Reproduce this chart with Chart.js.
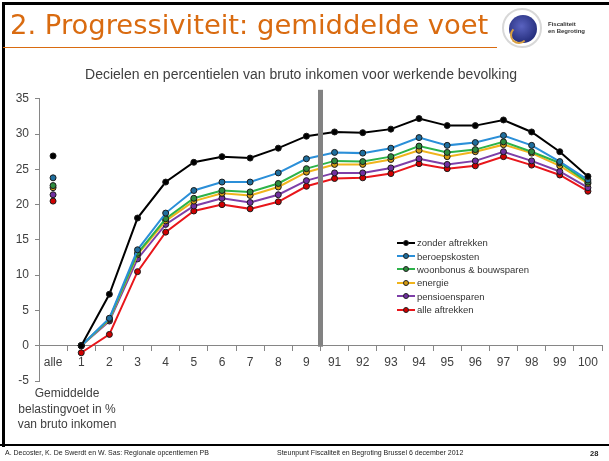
<!DOCTYPE html>
<html>
<head>
<meta charset="utf-8">
<script src="https://cdn.jsdelivr.net/npm/chart.js@4.4.1/dist/chart.umd.min.js"></script>
<style>
  html, body { margin: 0; padding: 0; background: #fff; }
  #slide { position: relative; width: 609px; height: 461px; overflow: hidden; font-family: "Liberation Sans", Arial, sans-serif; }
  #c { position: absolute; left: 0; top: 0; }
  .abs { position: absolute; }
  #topbar { left: 3px; top: 2px; width: 606px; height: 3px; background: #000; }
  #leftbar { left: 2px; top: 2px; width: 3px; height: 445px; background: #000; }
  #botbar { left: 0; top: 444px; width: 609px; height: 2px; background: #000; }
  #title { left: 10px; top: 9px; font-family: "DejaVu Sans", sans-serif; font-size: 27.4px; color: #d96b10; white-space: nowrap; }
  #underline { left: 3px; top: 47px; width: 494px; height: 1px; background: #d96b10; }
  #logo { left: 500px; top: 6px; width: 95px; height: 44px; }
  #logo .ring { left: 2px; top: 2px; width: 40px; height: 40px; border-radius: 50%; border: 2px solid #d8d8d8; box-sizing: border-box; }
  #logo .disc { left: 9px; top: 9px; width: 28px; height: 28px; border-radius: 50%; background: radial-gradient(circle at 45% 40%, #5a63c0, #27307f 70%); }
  #logo .arc { left: 10px; top: 20px; width: 18px; height: 18px; border-radius: 50%; border: 2px solid #d9a040; border-color: transparent transparent #d9a040 #d9a040; box-sizing: border-box; }
  #logo .txt { left: 48px; top: 15px; font-size: 6px; line-height: 7px; color: #333; font-weight: bold; }
  #ytitle { left: 2px; top: 386px; width: 130px; text-align: center; font-size: 12px; line-height: 15.5px; color: #404040; }
  #legend { left: 397px; top: 236px; font-size: 9.5px; color: #333; }
  #legend .row { height: 13.4px; display: flex; align-items: center; white-space: nowrap; }
  #legend .sample { position: relative; width: 18px; height: 2px; margin-right: 2px; }
  #legend .dot { position: absolute; left: 6px; top: -2px; width: 6px; height: 6px; border-radius: 50%; box-sizing: border-box; border: 1px solid #222; }
  .foot { top: 449px; font-size: 7px; color: #222; white-space: nowrap; }
</style>
</head>
<body>
<div id="slide">
  <canvas id="c" width="609" height="461"></canvas>
  <div class="abs" id="topbar"></div>
  <div class="abs" id="leftbar"></div>
  <div class="abs" id="botbar"></div>
  <div class="abs" id="title">2. Progressiviteit: gemiddelde voet</div>
  <div class="abs" id="underline"></div>
  <div class="abs" id="logo">
    <div class="abs ring"></div>
    <div class="abs disc"></div>
    <div class="abs arc"></div>
    <div class="abs txt">Fiscaliteit<br>en Begroting</div>
  </div>
  <div class="abs" id="ytitle">Gemiddelde<br>belastingvoet in %<br>van bruto inkomen</div>
  <div class="abs" id="legend"></div>
  <div class="abs foot" style="left:5px">A. Decoster, K. De Swerdt en W. Sas: Regionale opcentiemen PB</div>
  <div class="abs foot" style="left:277px">Steunpunt Fiscaliteit en Begroting Brussel 6 december 2012</div>
  <div class="abs foot" style="left:590px;font-weight:bold;font-size:7.5px">28</div>
</div>
<script>
// categorieen: "alle" + decielen 1-9 + percentielen 91-100
const categorieen = ["alle", "1", "2", "3", "4", "5", "6", "7", "8", "9",
  "91", "92", "93", "94", "95", "96", "97", "98", "99", "100"];

const zonderAftrekken = [26.9, 0, 7.3, 18.1, 23.2, 26.0, 26.8, 26.6, 28.0, 29.7,
  30.3, 30.2, 30.7, 32.2, 31.2, 31.2, 32.0, 30.3, 27.5, 24.0];
const beroepskosten = [23.8, 0, 3.9, 13.6, 18.8, 22.0, 23.2, 23.2, 24.5, 26.5,
  27.4, 27.3, 28.0, 29.5, 28.4, 28.8, 29.8, 28.4, 26.1, 23.5];
const woonbonus = [22.7, 0, 3.8, 13.1, 18.0, 20.9, 22.0, 21.8, 23.0, 25.1,
  26.2, 26.1, 26.8, 28.3, 27.4, 27.8, 28.9, 27.5, 25.9, 23.2];
const energie = [22.4, 0, 3.7, 12.9, 17.7, 20.5, 21.6, 21.3, 22.5, 24.6,
  25.7, 25.7, 26.4, 27.7, 26.8, 27.5, 28.5, 27.3, 25.5, 23.0];
const pensioensparen = [21.4, 0, 3.5, 12.3, 17.2, 19.8, 20.9, 20.3, 21.4, 23.4,
  24.5, 24.5, 25.2, 26.5, 25.7, 26.2, 27.5, 26.2, 24.7, 22.4];
const alleAftrekken = [20.5, -1.0, 1.6, 10.5, 16.1, 19.1, 20.0, 19.4, 20.4, 22.6,
  23.7, 23.8, 24.4, 25.8, 25.1, 25.5, 26.8, 25.6, 24.2, 21.9];

const reeksen = [
  { naam: "zonder aftrekken", data: zonderAftrekken, lijn: "#000000", punt: "#000000" },
  { naam: "beroepskosten", data: beroepskosten, lijn: "#2b8fd8", punt: "#1f6e9e" },
  { naam: "woonbonus & bouwsparen", data: woonbonus, lijn: "#2db34a", punt: "#2e8b3e" },
  { naam: "energie", data: energie, lijn: "#f0b41c", punt: "#d39a12" },
  { naam: "pensioensparen", data: pensioensparen, lijn: "#7e3fa8", punt: "#7030a0" },
  { naam: "alle aftrekken", data: alleAftrekken, lijn: "#e8161b", punt: "#d00000" }
];

// grijze scheidingslijn tussen decielen en percentielen
const scheiding = {
  id: "scheiding",
  afterDatasetsDraw(chart) {
    const x = chart.scales.x, y = chart.scales.y, ctx = chart.ctx;
    const px = (x.getPixelForValue(9) + x.getPixelForValue(10)) / 2;
    ctx.save();
    ctx.fillStyle = "#828282";
    ctx.fillRect(px - 2.5, chart.chartArea.top - 9, 5, y.getPixelForValue(0) - chart.chartArea.top + 10);
    ctx.restore();
  }
};

new Chart(document.getElementById("c"), {
  type: "line",
  data: {
    labels: categorieen,
    datasets: reeksen.map(r => ({
      label: r.naam,
      data: r.data,
      borderColor: r.lijn,
      borderWidth: 2,
      pointRadius: 3,
      pointBorderWidth: 1,
      pointBorderColor: "#1a1a1a",
      pointBackgroundColor: r.punt,
      tension: 0,
      segment: {
        // "alle" staat los van de rest
        borderColor: c => c.p0DataIndex === 0 ? "rgba(0,0,0,0)" : undefined
      }
    }))
  },
  options: {
    responsive: false,
    animation: false,
    devicePixelRatio: 1,
    layout: { padding: { left: 0, right: 7, top: 0, bottom: 80 } },
    plugins: {
      legend: { display: false },
      tooltip: { enabled: false },
      title: {
        display: true,
        text: "Decielen en percentielen van bruto inkomen voor werkende bevolking",
        color: "#404040",
        font: { family: "Liberation Sans", size: 14, weight: "normal" },
        padding: { top: 67, bottom: 15 }
      }
    },
    scales: {
      x: {
        position: { y: 0 },
        offset: true,
        grid: { display: true, offset: true, drawOnChartArea: false, tickLength: 5, color: "#868686" },
        border: { color: "#868686" },
        ticks: { color: "#404040", font: { family: "Liberation Sans", size: 12 }, padding: 5, autoSkip: false, maxRotation: 0 }
      },
      y: {
        min: -5,
        max: 35,
        afterFit: s => { s.width = 39; },
        grid: { drawOnChartArea: false, tickLength: 4, color: "#868686" },
        border: { color: "#868686" },
        ticks: { stepSize: 5, color: "#404040", font: { family: "Liberation Sans", size: 12 }, padding: 6 }
      }
    }
  },
  plugins: [scheiding]
});

// legenda
document.getElementById("legend").innerHTML = reeksen.map(r =>
  `<div class="row"><span class="sample" style="background:${r.lijn}">` +
  `<span class="dot" style="background:${r.punt}"></span></span>${r.naam}</div>`
).join("");
</script>
</body>
</html>
